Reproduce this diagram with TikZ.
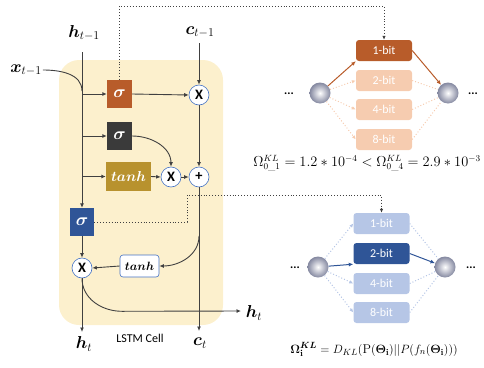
\documentclass[tikz,border=0pt]{standalone}
\usepackage{amsmath}
\usepackage{bm}
\usepackage{fontspec}
\newfontfamily\calib{Carlito}
\usetikzlibrary{calc}
\usetikzlibrary{positioning}
\usetikzlibrary{shapes,arrows.meta}

\definecolor{cellbg}{RGB}{252,240,205}
\definecolor{sigorange}{RGB}{184,92,42}
\definecolor{sigdark}{RGB}{58,58,58}
\definecolor{tanhgold}{RGB}{184,146,46}
\definecolor{sigblue}{RGB}{47,85,151}
\definecolor{lineg}{RGB}{64,64,64}
\definecolor{ringblue}{RGB}{68,114,196}
\definecolor{orangelight}{RGB}{246,204,176}
\definecolor{bluelight}{RGB}{182,198,230}
\definecolor{sphcol}{RGB}{132,136,160}

\begin{document}
\begin{tikzpicture}[x=1pt,y=-1pt,
  arr/.style={draw=lineg, line width=0.9pt, -{Latex[length=4.5pt,width=4pt]}},
  wire/.style={draw=lineg, line width=0.9pt},
  dotarr/.style={draw=lineg, line width=0.9pt, dotted, -{Latex[length=4pt,width=3.5pt]}},
  gate/.style={minimum width=25pt, minimum height=28pt, inner sep=0pt, text=white},
  op/.style={circle, draw=ringblue, line width=0.6pt, fill=white, minimum size=20pt, inner sep=0pt, font=\calib\bfseries\Large},
  bitbox/.style={rounded corners=3pt, minimum width=56pt, minimum height=21pt, inner sep=0pt, text=white, font=\calib\large},
  ball/.style={circle, inner color=white, outer color=sphcol, minimum size=21pt, inner sep=0pt},
  dots/.style={font=\calib\bfseries\large, inner sep=0pt},
  lbl/.style={inner sep=1pt, font=\LARGE}]

\useasboundingbox (0,0) rectangle (484,367);

% lstm cell background
\fill[cellbg, rounded corners=20pt] (59,60) rectangle (223,325);
\node[font=\calib\large] (cellname) at (140,338) {LSTM Cell};

% inputs
\node[lbl] (hin) at (84,33) {$\bm{h}_{t-1}$};
\node[lbl] (xin) at (26,70) {$\bm{x}_{t-1}$};
\node[lbl] (cin) at (200,32) {$\bm{c}_{t-1}$};
\coordinate (htop) at (82,52);
\coordinate (ctop) at (199,43);
\coordinate (xjoin) at (82,91);

% gates
\node[gate, fill=sigorange] (sigf) at (119.5,94) {\LARGE$\bm{\sigma}$};
\node[gate, fill=sigdark] (sigi) at (119.5,136) {\LARGE$\bm{\sigma}$};
\node[gate, fill=tanhgold, minimum width=45pt, minimum height=29pt] (tanhg) at (128.5,176.5) {\Large$\bm{tanh}$};
\node[gate, fill=sigblue, minimum width=24pt] (sigo) at (82,222) {\LARGE$\bm{\sigma}$};

% pointwise ops
\node[op] (mulf) at (199,95) {X};
\node[op] (muli) at (171,177) {X};
\node[op] (addc) at (199,177) {+};
\node[op] (mulo) at (82,268) {X};
\node[draw=ringblue, line width=0.6pt, fill=white, rounded corners=3pt, minimum width=39pt, minimum height=22pt, inner sep=0pt, font=\large] (tanhc) at (139.5,266) {$\bm{tanh}$};

% outputs
\node[lbl] (hout) at (84,344) {$\bm{h}_{t}$};
\node[lbl] (cout) at (200,343) {$\bm{c}_{t}$};
\node[lbl] (hright) at (254,313) {$\bm{h}_{t}$};
\coordinate (hend) at (82,332);
\coordinate (cend) at (199,331);
\coordinate (hrend) at (241,311);
\coordinate (csplit) at (199,236);

% wires into the gates
\draw[wire] (xin.east) to[out=0,in=90] (xjoin);
\draw[arr] (htop) -- (sigo.north);
\draw[arr] (sigf.west -| htop) -- (sigf.west);
\draw[arr] (sigi.west -| htop) -- (sigi.west);
\draw[arr] (tanhg.west -| htop) -- (tanhg.west);

% cell state path
\draw[arr] (ctop) -- (mulf.north);
\draw[arr] (sigf.east) -- (mulf.west);
\draw[arr] (mulf.south) -- (addc.north);
\draw[arr] (sigi.east) to[out=0,in=90] (muli.north);
\draw[arr] (tanhg.east) -- (muli.west);
\draw[arr] (muli.east) -- (addc.west);
\draw[arr] (addc.south) -- (cend);

% output path
\draw[arr] (csplit) to[out=-90,in=0] (tanhc.east);
\draw[arr] (tanhc.west) -- (mulo.east);
\draw[arr] (sigo.south) -- (mulo.north);
\draw[arr] (mulo.south) -- (hend);
\draw[arr] (mulo.south) to[out=-90,in=180] ($(mulo.south)+(40,33)$) -- (hrend);

% top search space: forget gate
\node[bitbox, fill=sigorange] (ob1) at (384,50.5) {1-bit};
\node[bitbox, fill=orangelight] (ob2) at (384,80.5) {2-bit};
\node[bitbox, fill=orangelight] (ob4) at (384,109.5) {4-bit};
\node[bitbox, fill=orangelight] (ob8) at (384,139.5) {8-bit};
\node[ball] (osl) at (320,93) {};
\node[ball] (osr) at (448,93) {};
\node[dots] (odl) at (289,94) {...};
\node[dots] (odr) at (473,94) {...};
\draw[draw=sigorange, line width=1pt, -{Latex[length=4.5pt,width=4pt]}] (osl) -- (ob1.south west);
\draw[draw=sigorange, line width=1pt, -{Latex[length=4.5pt,width=4pt]}] (ob1.east) -- (osr);
\draw[draw=orangelight, line width=1pt, dotted, -{Latex[length=4pt,width=3.5pt]}] (osl) -- (ob2.west);
\draw[draw=orangelight, line width=1pt, dotted, -{Latex[length=4pt,width=3.5pt]}] (osl) -- (ob4.west);
\draw[draw=orangelight, line width=1pt, dotted, -{Latex[length=4pt,width=3.5pt]}] (osl) -- (ob8.west);
\draw[draw=orangelight, line width=1pt, dotted] (ob2.east) -- (osr);
\draw[draw=orangelight, line width=1pt, dotted] (ob4.east) -- (osr);
\draw[draw=orangelight, line width=1pt, dotted] (ob8.east) -- (osr);
\node[font=\fontsize{13.4}{16}\selectfont] (okl) at (367,163) {$\Omega^{KL}_{0\_1}=1.2*10^{-4}<\Omega^{KL}_{0\_4}=2.9*10^{-3}$};

% bottom search space: output gate
\node[bitbox, fill=bluelight] (bb1) at (381.5,223.5) {1-bit};
\node[bitbox, fill=sigblue] (bb2) at (381.5,253.5) {2-bit};
\node[bitbox, fill=bluelight] (bb4) at (381.5,283.5) {4-bit};
\node[bitbox, fill=bluelight] (bb8) at (381.5,312.5) {8-bit};
\node[ball] (bsl) at (318,267) {};
\node[ball] (bsr) at (445,267) {};
\node[dots] (bdl) at (295,268) {...};
\node[dots] (bdr) at (471,268) {...};
\draw[draw=sigblue, line width=1pt, -{Latex[length=4.5pt,width=4pt]}] (bsl) -- (bb2.south west);
\draw[draw=sigblue, line width=1pt, -{Latex[length=4.5pt,width=4pt]}] (bb2.east) -- (bsr);
\draw[draw=bluelight, line width=1pt, dotted, -{Latex[length=4pt,width=3.5pt]}] (bsl) -- (bb1.west);
\draw[draw=bluelight, line width=1pt, dotted, -{Latex[length=4pt,width=3.5pt]}] (bsl) -- (bb4.west);
\draw[draw=bluelight, line width=1pt, dotted, -{Latex[length=4pt,width=3.5pt]}] (bsl) -- (bb8.west);
\draw[draw=bluelight, line width=1pt, dotted] (bb1.east) -- (bsr);
\draw[draw=bluelight, line width=1pt, dotted] (bb4.east) -- (bsr);
\draw[draw=bluelight, line width=1pt, dotted] (bb8.east) -- (bsr);
\node[font=\fontsize{12.7}{15}\selectfont] (bkl) at (374,349) {$\bm{\Omega_{\mathbf{i}}^{KL}}=D_{KL}(\mathrm{P}(\bm{\Theta}_{\mathbf{i}})||P(f_n(\bm{\Theta}_{\mathbf{i}})))$};

% dotted links from gates to search spaces
\coordinate (qtop) at (119,6);
\coordinate (dbend) at (187,195);
\draw[dotarr] (sigf.north) -- (sigf.north |- qtop) -| (ob1.north);
\draw[dotarr] (sigo.east) -| (dbend) -| (bb1.north);

\end{tikzpicture}
\end{document}
